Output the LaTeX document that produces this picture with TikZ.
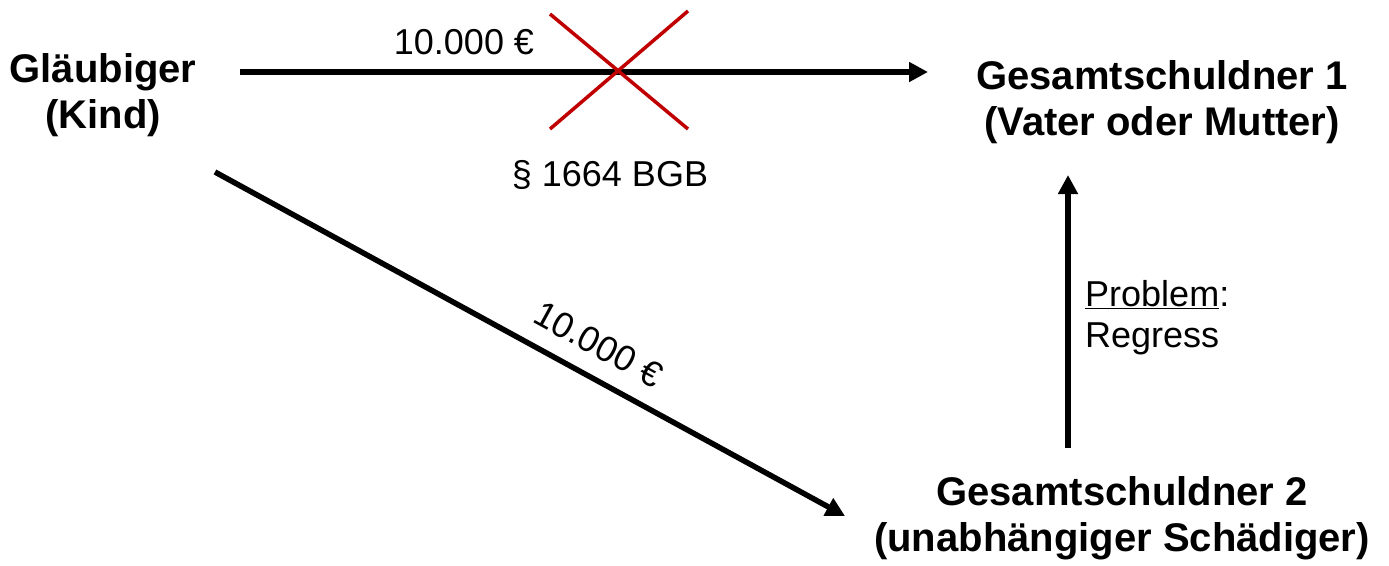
\documentclass[tikz,border=0pt]{standalone}
\usepackage{fontspec}
\setmainfont{Liberation Sans}
\usetikzlibrary{arrows.meta}
\definecolor{xred}{RGB}{192,0,0}
\begin{document}
\begin{tikzpicture}[x=1pt,y=-1pt,
  boldtxt/.style={font=\fontsize{40}{46}\selectfont\bfseries, align=center, inner sep=0pt},
  regtxt/.style={font=\fontsize{36}{41}\selectfont, inner sep=0pt},
  arr/.style={line width=5.5pt, -{Triangle[length=19pt,width=19pt]}},
  crossline/.style={line width=3.5pt, draw=xred}]
\useasboundingbox (0,0) rectangle (1389,565);
\node[boldtxt] (glaub) at (103,95) {Gläubiger\\(Kind)};
\node[boldtxt] (gs1) at (1162,102) {Gesamtschuldner 1\\(Vater oder Mutter)};
\node[boldtxt] (gs2) at (1122,518) {Gesamtschuldner 2\\(unabhängiger Schädiger)};
\node[regtxt] (amt1) at (464,42) {10.000 €};
\node[regtxt] (par) at (610,175) {§ 1664 BGB};
\node[regtxt, align=left, anchor=west] (prob) at (1085,318) {\underline{Problem}:\\Regress};
\coordinate (a1s) at (240,72);
\coordinate (a1e) at (928,72);
\coordinate (a2s) at (215,172);
\coordinate (a2e) at (845,516);
\coordinate (a3s) at (1068,448);
\coordinate (a3e) at (1068,175);
\draw[arr] (a1s) -- (a1e);
\draw[arr] (a2s) -- node[regtxt, sloped, above=17pt, pos=0.584] (amt2) {10.000 €} (a2e);
\draw[arr] (a3s) -- (a3e);
\coordinate (x1) at (550,14);
\coordinate (x2) at (688,129);
\coordinate (x3) at (550,129);
\coordinate (x4) at (688,11);
\draw[crossline] (x1) -- (x2);
\draw[crossline] (x3) -- (x4);
\end{tikzpicture}
\end{document}
